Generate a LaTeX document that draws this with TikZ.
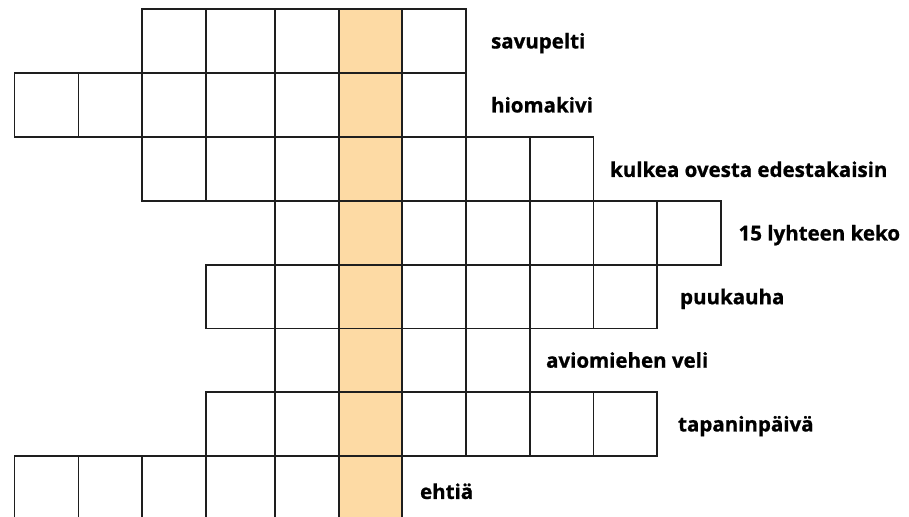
\documentclass[tikz,border=0pt]{standalone}
\usepackage{fontspec}
\setmainfont{Open Sans}[BoldFeatures={FakeBold=0.9}]
\definecolor{hl}{RGB}{253,218,164}
\definecolor{gridline}{RGB}{30,30,30}
\tikzset{
  cell/.style={draw=gridline, line width=1.9pt, fill=white, inner sep=0pt, anchor=north west},
  clue/.style={anchor=base west, font=\bfseries\fontsize{20.5}{24}\selectfont, inner sep=0pt, text=black}
}
\begin{document}
\begin{tikzpicture}[x=1pt,y=-1pt]
\useasboundingbox (0,0) rectangle (909,516);
\clip (0,0) rectangle (909,516);
\def\xs{{13.5,77.5,141,205,274,338,401,465,529,592.5,656,720}}
\def\ys{{0,8,72,136,200,264,327.5,391,455,519}}
\foreach \r/\a/\b in {1/2/6, 2/0/6, 3/2/8, 4/4/10, 5/3/9, 6/4/7, 7/3/9, 8/0/5}{
  \foreach \c in {\a,...,\b}{
    \pgfmathsetmacro\xl{\xs[\c]}
    \pgfmathsetmacro\xr{\xs[\c+1]}
    \pgfmathsetmacro\yt{\ys[\r]}
    \pgfmathsetmacro\yb{\ys[\r+1]}
    \pgfmathsetmacro\w{\xr-\xl}
    \pgfmathsetmacro\h{\yb-\yt}
    \ifnum\c=5
      \node[cell, fill=hl, minimum width=\w pt, minimum height=\h pt] (c-\r-\c) at (\xl,\yt) {};
    \else
      \node[cell, minimum width=\w pt, minimum height=\h pt] (c-\r-\c) at (\xl,\yt) {};
    \fi
  }
}
\node[clue] (k1) at ([xshift=24pt,yshift=-7.5pt]c-1-6.east) {savupelti};
\node[clue] (k2) at ([xshift=24pt,yshift=-7.5pt]c-2-6.east) {hiomakivi};
\node[clue] (k3) at ([xshift=15.5pt,yshift=-8pt]c-3-8.east) {kulkea ovesta edestakaisin};
\node[clue] (k4) at ([xshift=16.5pt,yshift=-7.5pt]c-4-10.east) {15 lyhteen keko};
\node[clue] (k5) at ([xshift=22pt,yshift=-7.5pt]c-5-9.east) {puukauha};
\node[clue] (k6) at ([xshift=15pt,yshift=-7.5pt]c-6-7.east) {aviomiehen veli};
\node[clue] (k7) at ([xshift=20pt,yshift=-7.5pt]c-7-9.east) {tapaninpäivä};
\node[clue] (k8) at ([xshift=17pt,yshift=-11pt]c-8-5.east) {ehtiä};
\end{tikzpicture}
\end{document}
